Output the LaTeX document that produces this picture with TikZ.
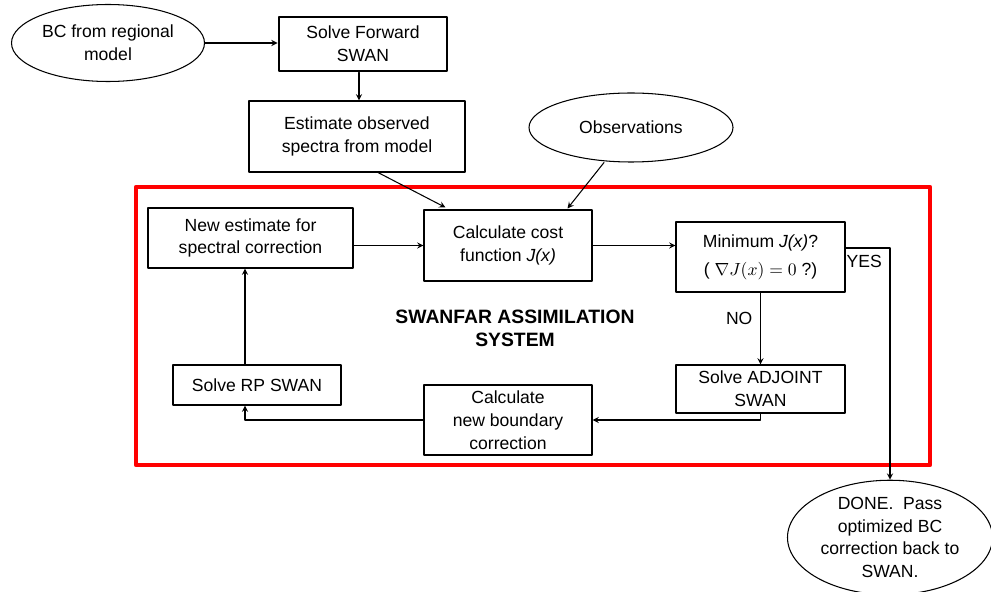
\documentclass[tikz,border=0pt]{standalone}
\usepackage{fontspec}
\setmainfont{Liberation Sans}
\usetikzlibrary{shapes.geometric,calc}
\tikzset{
  box/.style={draw, line width=0.6pt, align=center, inner sep=1pt},
  oval/.style={draw, ellipse, line width=0.6pt, align=center, inner sep=0pt},
  link/.style={->, line width=0.6pt}
}
\begin{document}
\begin{tikzpicture}[>=stealth, font=\fontsize{10}{13}\selectfont, line join=round, line cap=round]
	\useasboundingbox (0,0) rectangle (19.82,-11.84);
	\draw[red, line width=2.4pt] (2.72,-3.74) rectangle (18.6,-9.3);
	\node[oval, minimum width=3.86cm, minimum height=1.54cm] (bc) at (2.16,-0.86) {BC from regional\\model};
	\node[box, line width=1.6pt, minimum width=3.36cm, minimum height=1.08cm] (fwd) at (7.26,-0.88) {Solve Forward\\SWAN};
	\node[box, minimum width=4.32cm, minimum height=1.42cm] (est) at (7.14,-2.73) {Estimate observed\\spectra from model};
	\node[oval, minimum width=4.08cm, minimum height=1.38cm] (obs) at (12.62,-2.55) {Observations};
	\node[box, minimum width=4.1cm, minimum height=1.2cm] (newest) at (5.01,-4.76) {New estimate for\\spectral correction};
	\node[box, minimum width=3.36cm, minimum height=1.42cm] (cost) at (10.16,-4.91) {Calculate cost\\function \textit{J(x)}};
	\node[box, minimum width=3.38cm, minimum height=1.4cm] (min) at (15.21,-5.14) {Minimum \textit{J(x)}?\\[3pt]( $\nabla J(x)=0$ ?)};
	\node[box, minimum width=3.38cm, minimum height=0.96cm] (adj) at (15.21,-7.78) {Solve ADJOINT\\SWAN};
	\node[box, minimum width=3.36cm, minimum height=1.4cm] (calc) at (10.16,-8.4) {Calculate\\new boundary\\correction};
	\node[box, minimum width=3.36cm, minimum height=0.8cm] (rp) at (5.14,-7.7) {Solve RP SWAN};
	\node[oval, minimum width=4.1cm, minimum height=2.18cm] (done) at (17.8,-10.75) {DONE.\ \ Pass\\optimized BC\\correction back to\\SWAN.};
	\node[font=\fontsize{11}{13}\selectfont\bfseries, align=center] (sys) at (10.3,-6.56) {SWANFAR ASSIMILATION\\SYSTEM};
	\coordinate (yes) at (17.8,-4.96);
	\draw[link] (bc.east) -- (bc.east -| fwd.west);
	\draw[link] ([xshift=-0.08cm]fwd.south) -- ([xshift=-0.08cm]fwd.south |- est.north);
	\draw[link] ([xshift=0.42cm]est.south) -- ([xshift=0.44cm,yshift=0.04cm]cost.north west);
	\draw[link] ([xshift=-0.54cm]obs.south) -- ([xshift=-0.5cm,yshift=0.02cm]cost.north east);
	\draw[link] (newest.east |- cost.west) -- (cost.west);
	\draw[link] (cost.east) -- (cost.east -| min.west);
	\draw[link] (min.east |- yes) -- (yes) -- (done.north) node[pos=0.06, left=1pt] {YES};
	\draw[link] (min.south) -- (adj.north) node[midway, left=1pt, yshift=0.2cm] {NO};
	\draw[link] (adj.south) |- (calc.east);
	\draw[link] (calc.west) -| ([xshift=-0.24cm]rp.south);
	\draw[link] ([xshift=-0.24cm]rp.north) -- ([xshift=-0.24cm]rp.north |- newest.south);
\end{tikzpicture}
\end{document}
